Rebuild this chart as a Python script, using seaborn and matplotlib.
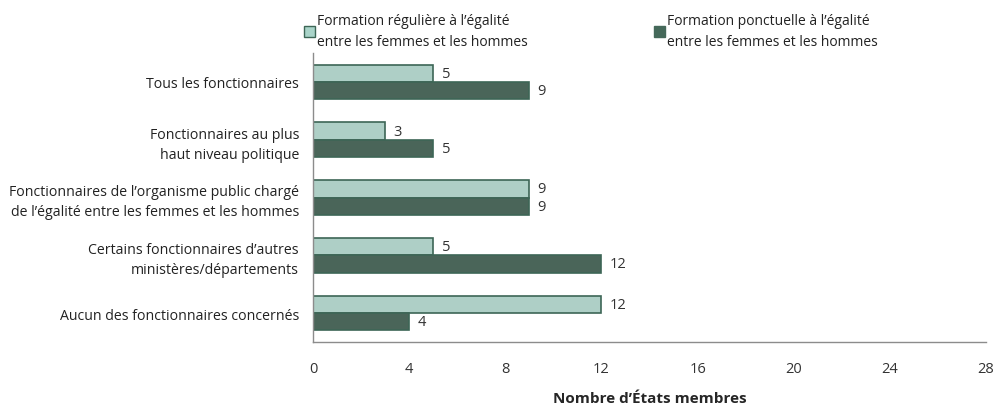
import numpy as np
import pandas as pd
import matplotlib
matplotlib.use("Agg")
import matplotlib.pyplot as plt
import seaborn as sns

categories = [
    "Tous les fonctionnaires",
    "Fonctionnaires au plus\nhaut niveau politique",
    "Fonctionnaires de l\u2019organisme public chargé\nde l\u2019égalité entre les femmes et les hommes",
    "Certains fonctionnaires d\u2019autres\nministères/départements",
    "Aucun des fonctionnaires concernés",
]
series = [
    "Formation régulière à l\u2019égalité\nentre les femmes et les hommes",
    "Formation ponctuelle à l\u2019égalité\nentre les femmes et les hommes",
]
reguliere = [5, 3, 9, 5, 12]
ponctuelle = [9, 5, 9, 12, 4]
xticks = [0, 4, 8, 12, 16, 20, 24, 28]

light = "#a9d4c9"
dark = "#45695a"
edge = "#3d6656"
grey = "#8c8c8c"

df = pd.DataFrame({
    "cat": categories * 2,
    "serie": [series[0]] * 5 + [series[1]] * 5,
    "val": reguliere + ponctuelle,
})

sns.set_style("white")
plt.rcParams["font.family"] = ["Open Sans", "DejaVu Sans"]
plt.rcParams["font.size"] = 10

fig = plt.figure(figsize=(9.98, 4.06), dpi=100)
ax = fig.add_axes([313 / 998, 1 - 343 / 406, (986 - 313) / 998, (343 - 54) / 406])

sns.barplot(data=df, x="val", y="cat", hue="serie", orient="h",
            palette=[light, dark], width=0.6, gap=0, ax=ax,
            edgecolor=edge, linewidth=1.2, legend=False)

for cont in ax.containers:
    ax.bar_label(cont, padding=6, fontsize=10.5, color="#333333")

ax.set_xlim(0, 28)
ax.set_ylim(4.5, -0.5)
ax.set_xticks(xticks)
ax.set_xticklabels([str(t) for t in xticks], fontsize=10.5, color="#333333")
ax.set_yticks(range(5))
ax.set_yticklabels(categories, fontsize=10.2, color="#222222", ha="right",
                   multialignment="right", linespacing=1.45)
ax.set_yticks(np.arange(-0.5, 5, 1), minor=True)
ax.tick_params(axis="y", which="major", length=0, pad=10)
ax.tick_params(axis="y", which="minor", length=5, color=grey, width=1)
ax.tick_params(axis="x", length=5, color=grey, width=1, pad=9)
ax.set_ylabel("")
ax.set_xlabel("Nombre d\u2019États membres", fontsize=11, fontweight="bold", labelpad=10.5)
sns.despine(ax=ax)
for s in ["left", "bottom"]:
    ax.spines[s].set_color(grey)
    ax.spines[s].set_linewidth(1)

handles = [plt.Rectangle((0, 0), 1, 1, facecolor=light, edgecolor=edge),
           plt.Rectangle((0, 0), 1, 1, facecolor=dark, edgecolor=dark)]
leg1 = fig.legend([handles[0]], [series[0]], loc="upper left",
                  bbox_to_anchor=(291 / 998, 0.997), frameon=False, fontsize=10,
                  handlelength=0.8, handleheight=0.8, handletextpad=0.2)
leg2 = fig.legend([handles[1]], [series[1]], loc="upper left",
                  bbox_to_anchor=(641 / 998, 0.997), frameon=False, fontsize=10,
                  handlelength=0.8, handleheight=0.8, handletextpad=0.2)
for lg in (leg1, leg2):
    for t in lg.get_texts():
        t.set_linespacing(1.55)
        t.set_color("#222222")

fig.savefig("out.png", dpi=100)
